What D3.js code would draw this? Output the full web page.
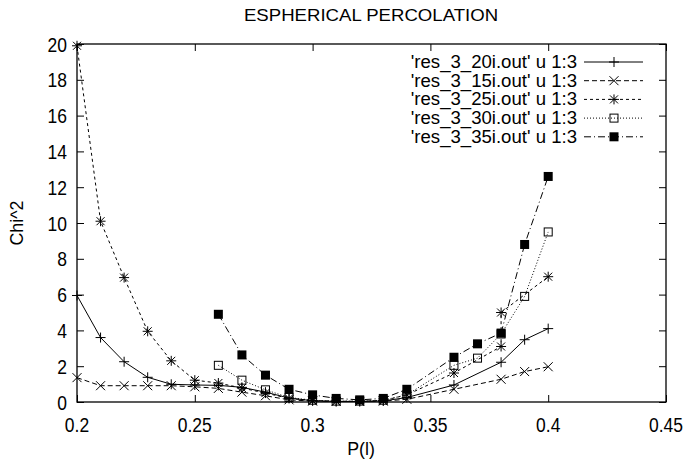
<!DOCTYPE html>
<html><head><meta charset="utf-8">
<script src="https://cdn.jsdelivr.net/npm/d3@7"></script>
<style>html,body{margin:0;padding:0;background:#fff;}svg{display:block;}text{font-family:"Liberation Sans",Arial,sans-serif;fill:#000;}</style>
</head><body>
<svg id="chart" width="686" height="463"></svg>
<script>
const title = "ESPHERICAL PERCOLATION";
const xLabel = "P(l)";
const yLabel = "Chi^2";
const xTicks = [0.2, 0.25, 0.3, 0.35, 0.4, 0.45];
const xTickLabels = ["0.2", "0.25", "0.3", "0.35", "0.4", "0.45"];
const yTicks = [0, 2, 4, 6, 8, 10, 12, 14, 16, 18, 20];

const seriesNames = ["'res_3_20i.out' u 1:3", "'res_3_15i.out' u 1:3", "'res_3_25i.out' u 1:3", "'res_3_30i.out' u 1:3", "'res_3_35i.out' u 1:3"];

const p20 = [0.2,0.21,0.22,0.23,0.24,0.25,0.26,0.27,0.28,0.29,0.3,0.31,0.32,0.33,0.34,0.36,0.38,0.39,0.4];
const chi20 = [5.95,3.6,2.25,1.38,0.99,0.95,0.93,0.82,0.55,0.22,0.07,0.03,0.03,0.06,0.25,0.95,2.22,3.48,4.1];

const p15 = [0.2,0.21,0.22,0.23,0.24,0.25,0.26,0.27,0.28,0.29,0.3,0.31,0.32,0.33,0.34,0.36,0.38,0.39,0.4];
const chi15 = [1.36,0.91,0.91,0.91,0.91,0.85,0.76,0.55,0.35,0.12,0.05,0.03,0.03,0.05,0.15,0.71,1.27,1.7,1.97];

const p25 = [0.2,0.21,0.22,0.23,0.24,0.25,0.26,0.27,0.28,0.29,0.3,0.31,0.32,0.33,0.34,0.36,0.38,0.38,0.4];
const chi25 = [19.9,10.1,6.95,3.95,2.3,1.22,1.06,0.78,0.5,0.2,0.08,0.04,0.04,0.08,0.4,1.62,3.1,5.0,7.0];

const p30 = [0.26,0.27,0.28,0.29,0.3,0.31,0.32,0.33,0.34,0.36,0.37,0.38,0.39,0.4];
const chi30 = [2.05,1.22,0.68,0.25,0.1,0.05,0.05,0.1,0.4,2.05,2.45,3.8,5.9,9.5];

const p35 = [0.26,0.27,0.28,0.29,0.3,0.31,0.32,0.33,0.34,0.36,0.37,0.38,0.39,0.4];
const chi35 = [4.9,2.63,1.5,0.71,0.4,0.2,0.12,0.2,0.71,2.5,3.25,3.85,8.8,12.6];

const markers = ["plus", "cross", "star", "square", "filled"];
const dashes = [null, "5,3", "3,3", "1,2", "7,3,1,3"];

const series = [
  {name: seriesNames[0], x: p20, y: chi20},
  {name: seriesNames[1], x: p15, y: chi15},
  {name: seriesNames[2], x: p25, y: chi25},
  {name: seriesNames[3], x: p30, y: chi30},
  {name: seriesNames[4], x: p35, y: chi35}
];

const svg = d3.select("#chart");
const L = 77, R = 666, T = 44, B = 402;
const x = d3.scaleLinear().domain([0.2, 0.45]).range([L, R]);
const y = d3.scaleLinear().domain([0, 20]).range([B, T]);

function txt(g, xx, yy, s, anchor, fs, sx, sy, rot) {
  return g.append("text").attr("transform", `translate(${xx},${yy})` + (rot ? ` rotate(${rot})` : "") + ` scale(${sx},${sy})`)
    .attr("text-anchor", anchor).attr("font-size", fs).text(s);
}

const tl = 7;
function styleAxis(g) { g.select(".domain").remove(); g.selectAll("line").attr("stroke", "#000"); }
svg.append("g").attr("transform", `translate(0,${B})`)
  .call(d3.axisBottom(x).tickValues(xTicks).tickSize(-tl).tickFormat(() => "")).call(styleAxis);
svg.append("g").attr("transform", `translate(0,${T})`)
  .call(d3.axisTop(x).tickValues(xTicks).tickSize(-tl).tickFormat(() => "")).call(styleAxis);
svg.append("g").attr("transform", `translate(${L},0)`)
  .call(d3.axisLeft(y).tickValues(yTicks).tickSize(-tl).tickFormat(() => "")).call(styleAxis);
svg.append("g").attr("transform", `translate(${R},0)`)
  .call(d3.axisRight(y).tickValues(yTicks).tickSize(-tl).tickFormat(() => "")).call(styleAxis);

svg.append("rect").attr("x", L).attr("y", T).attr("width", R - L).attr("height", B - T)
  .attr("fill", "none").attr("stroke", "#000").attr("stroke-width", 1.3);

const lab = svg.append("g");
xTicks.forEach((v, i) => txt(lab, x(v), 432, xTickLabels[i], "middle", 17.5, 1, 1.2));
yTicks.forEach(v => txt(lab, 67, y(v) + 7.5, String(v), "end", 17.5, 1, 1.2));
txt(lab, 361, 455, xLabel, "middle", 15.5, 1.15, 1.2);
txt(lab, 23, 223, yLabel, "middle", 15.5, 1.15, 1.2, -90);
txt(lab, 371, 21, title, "middle", 15.5, 1.2, 1.05);

function drawMarker(g, type, cx, cy) {
  const s = 5;
  if (type === "plus" || type === "star") {
    g.append("path").attr("d", `M${cx - s},${cy}H${cx + s}M${cx},${cy - s}V${cy + s}`).attr("stroke", "#000").attr("fill", "none");
  }
  if (type === "cross" || type === "star") {
    const c = type === "star" ? 4 : 4.5;
    g.append("path").attr("d", `M${cx - c},${cy - c}L${cx + c},${cy + c}M${cx - c},${cy + c}L${cx + c},${cy - c}`).attr("stroke", "#000").attr("fill", "none");
  }
  if (type === "square") {
    g.append("rect").attr("x", cx - 4).attr("y", cy - 4).attr("width", 8).attr("height", 8).attr("fill", "none").attr("stroke", "#000");
  }
  if (type === "filled") {
    g.append("rect").attr("x", cx - 4.5).attr("y", cy - 4.5).attr("width", 9).attr("height", 9).attr("fill", "#000");
  }
}

const line = d3.line().x(d => x(d[0])).y(d => y(d[1]));
const plot = svg.append("g");
series.forEach((s, i) => {
  const pts = s.x.map((v, j) => [v, s.y[j]]);
  plot.append("path").datum(pts).attr("d", line).attr("fill", "none").attr("stroke", "#000")
    .attr("stroke-width", 1).attr("stroke-dasharray", dashes[i]);
  const mg = plot.append("g");
  pts.forEach(p => drawMarker(mg, markers[i], x(p[0]), y(p[1])));
});

const leg = svg.append("g");
series.forEach((s, i) => {
  const yy = 62 + i * 18.7;
  txt(leg, 577, yy + 6, s.name, "end", 15.5, 1.2, 1.15);
  leg.append("line").attr("x1", 584).attr("x2", 643).attr("y1", yy).attr("y2", yy)
    .attr("stroke", "#000").attr("stroke-dasharray", dashes[i]);
  drawMarker(leg, markers[i], 614, yy);
});
</script>
</body></html>
